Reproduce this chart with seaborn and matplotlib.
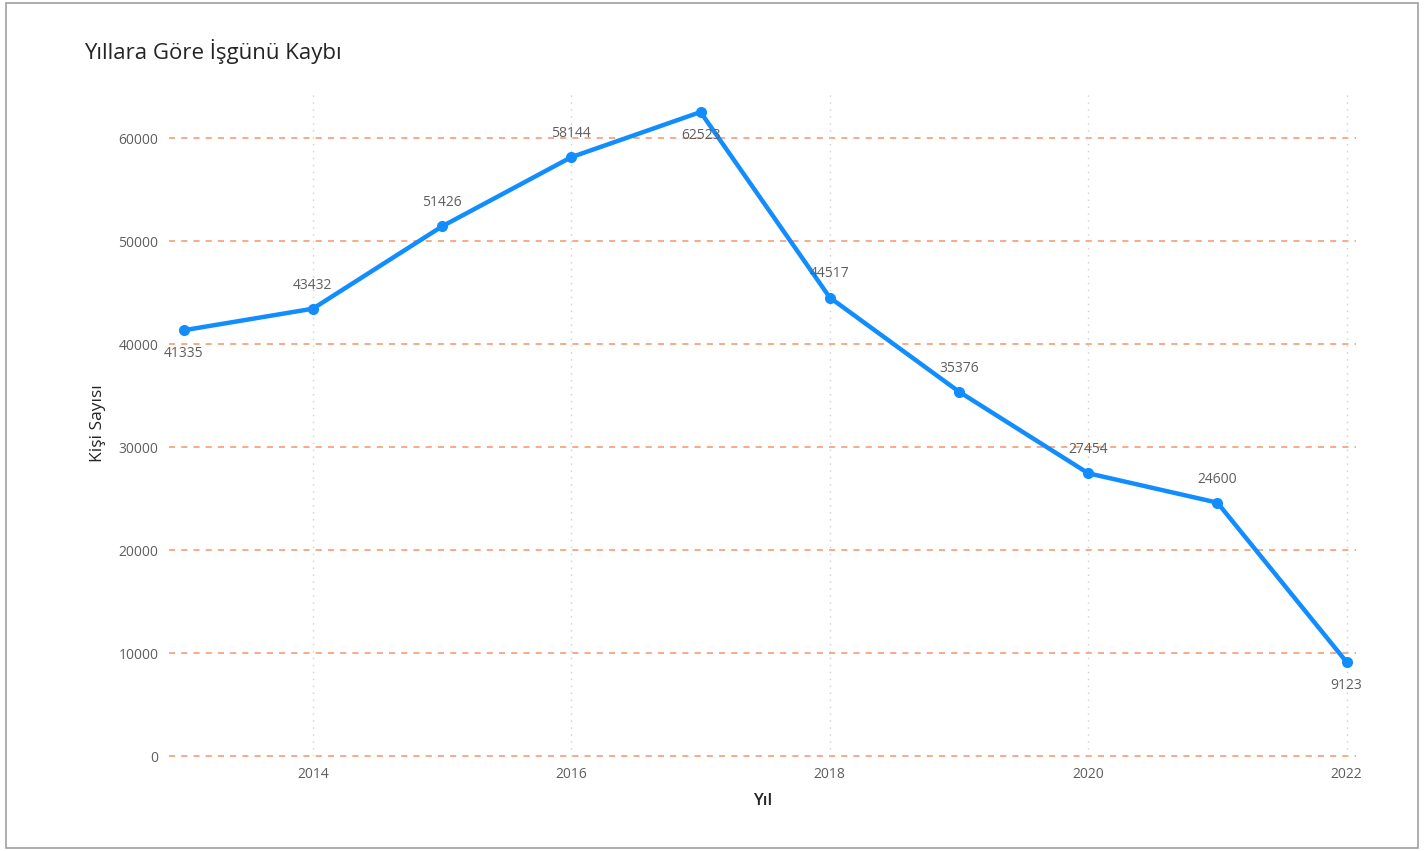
import matplotlib
matplotlib.use("Agg")
import matplotlib.pyplot as plt
import pandas as pd
import seaborn as sns

# Data
years = [2013, 2014, 2015, 2016, 2017, 2018, 2019, 2020, 2021, 2022]
lost_days = [41335, 43432, 51426, 58144, 62523, 44517, 35376, 27454, 24600, 9123]
# label above (+1) or below (-1) the point
label_side = [-1, 1, 1, 1, -1, 1, 1, 1, 1, -1]
x_ticks = [2014, 2016, 2018, 2020, 2022]
y_ticks = [0, 10000, 20000, 30000, 40000, 50000, 60000]

df = pd.DataFrame({"Yıl": years, "Kişi Sayısı": lost_days})

sns.set_theme(style="white")
plt.rcParams["font.family"] = ["Open Sans", "DejaVu Sans"]

fig = plt.figure(figsize=(14.24, 8.51), dpi=100)
ax = fig.add_axes([0.119, 0.1116, 0.833, 0.7826])

# Horizontal dashed grid (orange) and vertical dotted grid (grey)
for yv in y_ticks:
    ax.axhline(yv, color="#F4956A", linestyle=(0, (4, 4)), linewidth=1.1,
               zorder=0, clip_on=False)
for xv in x_ticks:
    ax.axvline(xv, color="#D0D0D0", linestyle=(0, (1, 4)), linewidth=1.0, zorder=0)

sns.lineplot(
    data=df,
    x="Yıl",
    y="Kişi Sayısı",
    color="#118DFF",
    linewidth=3.2,
    marker="o",
    markersize=8,
    markeredgewidth=0,
    ax=ax,
)

for x, y, side in zip(years, lost_days, label_side):
    ax.annotate(
        str(y),
        (x, y),
        xytext=(0, 17 * side),
        textcoords="offset points",
        ha="center",
        va="center",
        fontsize=10,
        color="#605E5C",
    )

ax.set_xlim(2012.89, 2022.07)
ax.set_ylim(0, 64660)
ax.set_xticks(x_ticks)
ax.set_yticks(y_ticks)
ax.tick_params(axis="both", labelsize=10, colors="#605E5C", length=0, pad=8)
for s in ax.spines.values():
    s.set_visible(False)

ax.set_xlabel("Yıl", fontsize=12, color="#252423", labelpad=8, fontweight="semibold")
ax.set_ylabel("Kişi Sayısı", fontsize=12.5, color="#252423", labelpad=9)

fig.text(0.059, 0.94, "Yıllara Göre İşgünü Kaybı", fontsize=16, color="#252423",
         ha="left", va="center")

# Outer frame
fig.patches.append(plt.Rectangle((0.004, 0.004), 0.992, 0.992, transform=fig.transFigure,
                                 fill=False, edgecolor="#A0A0A0", linewidth=1.2))

fig.savefig("out.png", dpi=100)
